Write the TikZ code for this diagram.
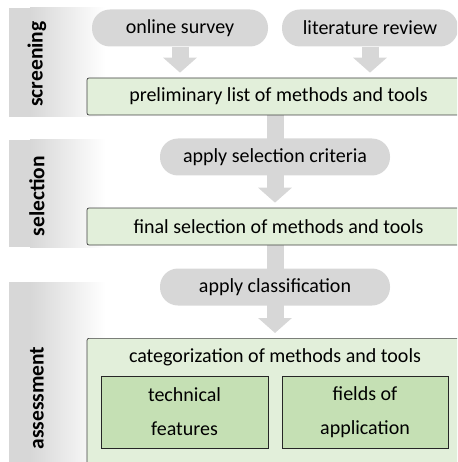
\documentclass[tikz,border=0pt]{standalone}
\usepackage{fontspec}
\setmainfont{Carlito}
\usetikzlibrary{arrows.meta,backgrounds}
\definecolor{pillgray}{RGB}{215,215,215}
\definecolor{lightgreen}{RGB}{226,239,218}
\definecolor{midgreen}{RGB}{197,224,180}
\begin{document}
\begin{tikzpicture}[x=1pt,y=-1pt,
  txt/.style={font=\fontsize{20}{23}\selectfont},
  pill/.style={txt, fill=pillgray, rounded corners=18pt, minimum height=37pt, inner sep=0pt},
  gbox/.style={txt, fill=lightgreen, draw=black!75, line width=0.7pt, rounded corners=2pt, inner sep=0pt, minimum width=383pt},
  ibox/.style={font=\fontsize{20}{34}\selectfont, fill=midgreen, draw=black!85, line width=0.9pt, align=center, inner sep=0pt, minimum height=72pt},
  lab/.style={rotate=90, font=\bfseries\fontsize{21.5}{24}\selectfont},
  arr/.style={draw=pillgray, line width=17pt, -{Triangle[width=33pt,length=15pt]}, shorten >=5pt}]
\clip (0,0) rectangle (457,462);
% bands
\fill[pillgray] (9,8) rectangle (30,117);
\shade[left color=pillgray,right color=white] (30,8) rectangle (105,117);
\fill[pillgray] (9,140) rectangle (30,247);
\shade[left color=pillgray,right color=white] (30,140) rectangle (105,247);
\fill[pillgray] (9,282) rectangle (30,470);
\shade[left color=pillgray,right color=white] (30,282) rectangle (105,470);
\node[lab] (l1) at (37,64) {screening};
\node[lab] (l2) at (37,196) {selection};
\node[lab] (l3) at (37,398) {assessment};
% nodes
\node[pill, minimum width=176pt] (os) at (180,28) {online survey};
\node[pill, minimum width=176pt] (lr) at (370,28) {literature review};
\node[gbox, minimum height=37pt] (pl) at (278.5,96.5) {preliminary list of methods and tools};
\node[pill, minimum width=230pt] (sc) at (275,157) {apply selection criteria};
\node[gbox, minimum height=37pt] (fs) at (278.5,226.5) {final selection of methods and tools};
\node[pill, minimum width=230pt] (ac) at (275,287) {apply classification};
\node[gbox, minimum height=142pt, anchor=north] (cat) at (278.5,338) {};
\node[txt] (ct) at (275,357) {categorization of methods and tools};
\node[ibox, minimum width=167pt] (tf) at (184.5,412) {technical\\features};
\node[ibox, minimum width=166pt] (fa) at (365,412) {fields of\\application};
% arrows
\begin{scope}[on background layer]
\draw[arr] (os.south) -- (os.south |- pl.north);
\draw[arr] (lr.south) -- (lr.south |- pl.north);
\draw[arr] (pl.south -| sc.south) -- (fs.north -| sc.south);
\draw[arr] (fs.south -| ac.south) -- (cat.north -| ac.south);
\end{scope}
\end{tikzpicture}
\end{document}
